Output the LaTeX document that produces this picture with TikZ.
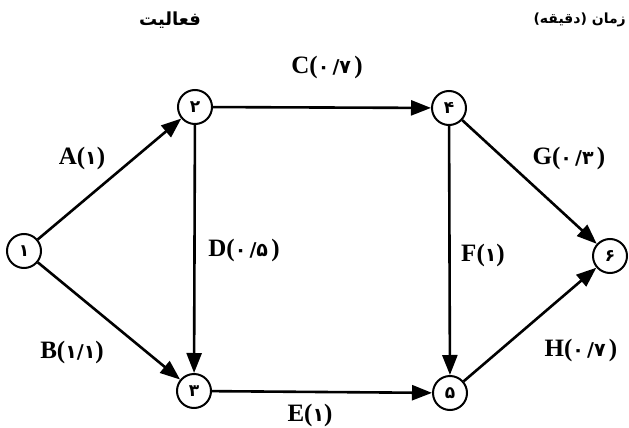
\documentclass[tikz,border=0pt]{standalone}
\usepackage{fontspec}
\setmainfont{Liberation Serif}
\newfontfamily\fafont[Script=Arabic]{DejaVu Sans}
\newfontfamily\digfont{DejaVu Sans}
\TeXXeTstate=1
\usetikzlibrary{arrows.meta}
\tikzset{
  state/.style={circle,draw,line width=2pt,minimum size=34pt,inner sep=0pt,font=\digfont\bfseries\fontsize{17}{17}\selectfont},
  edge/.style={line width=2.6pt,-{Triangle[length=20pt,width=15pt]}},
  lbl/.style={inner sep=0pt,font=\bfseries\fontsize{25}{25}\selectfont},
  hdr/.style={inner sep=0pt,font=\fafont\bfseries\fontsize{18}{18}\selectfont}
}
\newcommand{\dg}[1]{{\digfont\bfseries\fontsize{19}{19}\selectfont #1}}
\begin{document}
\begin{tikzpicture}[x=1pt,y=-1pt]
\useasboundingbox (0,0) rectangle (629,428);
\node[state] (n1) at (24,251) {۱};
\node[state] (n2) at (195,107) {۲};
\node[state] (n3) at (194,391) {۳};
\node[state] (n4) at (449,108) {۴};
\node[state] (n5) at (450,393) {۵};
\node[state] (n6) at (610,256) {۶};
\draw[edge] (n1) -- (n2);
\draw[edge] (n1) -- (n3);
\draw[edge] (n2) -- (n4);
\draw[edge] (n2) -- (n3);
\draw[edge] (n3) -- (n5);
\draw[edge] (n4) -- (n5);
\draw[edge] (n4) -- (n6);
\draw[edge] (n5) -- (n6);
\node[lbl] (la) at (82,158) {A(\dg{۱})};
\node[lbl] (lb) at (72,352) {B(\dg{۱/۱})};
\node[lbl] (lc) at (327,67) {C(\dg{۰\,/۷\,})};
\node[lbl] (ld) at (244,250) {D(\dg{۰\,/۵\,})};
\node[lbl] (le) at (310,415) {E(\dg{۱})};
\node[lbl] (lf) at (483,255) {F(\dg{۱})};
\node[lbl] (lg) at (569,158) {G(\dg{۰\,/۳\,})};
\node[lbl] (lh) at (581,350) {H(\dg{۰\,/۷\,})};
\node[hdr] (h1) at (170,20) {\beginR فعالیت\endR};
\node[hdr,anchor=east,font=\fafont\bfseries\fontsize{14}{14}\selectfont] (h2) at (626,20) {\beginR زمان (دقیقه)\endR};
\end{tikzpicture}
\end{document}
